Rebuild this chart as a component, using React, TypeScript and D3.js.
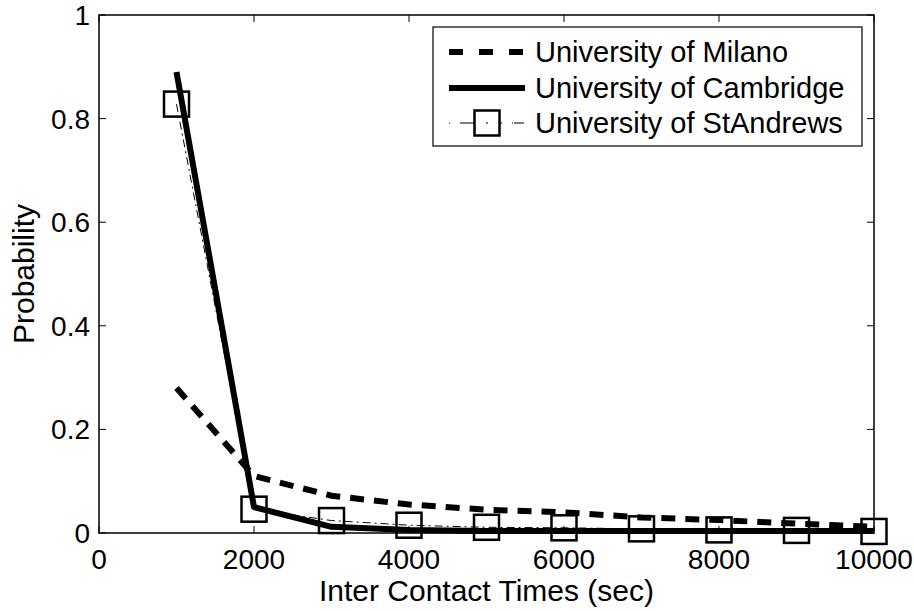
import React from "react";
import * as d3 from "d3";

const xValues = [1000, 2000, 3000, 4000, 5000, 6000, 7000, 8000, 9000, 10000];
const milano = [0.28, 0.11, 0.072, 0.055, 0.045, 0.04, 0.03, 0.025, 0.018, 0.012];
const cambridge = [0.89, 0.05, 0.012, 0.006, 0.004, 0.004, 0.004, 0.004, 0.004, 0.004];
const stAndrews = [0.828, 0.046, 0.024, 0.015, 0.011, 0.01, 0.008, 0.006, 0.005, 0.003];
const xTicks = [0, 2000, 4000, 6000, 8000, 10000];
const yTicks = [0, 0.2, 0.4, 0.6, 0.8, 1];
const seriesNames = ["University of Milano", "University of Cambridge", "University of StAndrews"];

const W = 914, H = 611;
const L = 99, R = 874, T = 15, B = 533;
const FONT = "Liberation Sans, Arial, sans-serif";

export default function App() {
  const x = d3.scaleLinear().domain([0, 10000]).range([L, R]);
  const y = d3.scaleLinear().domain([0, 1]).range([B, T]);
  const line = d3.line<[number, number]>().x(d => x(d[0])).y(d => y(d[1]));
  const pts = (arr: number[]) => xValues.map((v, i) => [v, arr[i]] as [number, number]);
  const tickLen = 7;
  const sq = 25;

  const legX0 = 449, legX1 = 525, legTextX = 535;
  const legRows = [52, 88, 123];

  return (
    <svg width={W} height={H} style={{ position: "absolute", left: 0, top: 0, background: "#fff" }} fontFamily={FONT}>
      <rect x={0} y={0} width={W} height={H} fill="#fff" />
      {/* data lines */}
      <path d={line(pts(stAndrews)) || ""} fill="none" stroke="#000" strokeWidth={1} strokeDasharray="8,4,2,4" />
      <path d={line(pts(milano)) || ""} fill="none" stroke="#000" strokeWidth={6} strokeDasharray="14,10" />
      <path d={line(pts(cambridge)) || ""} fill="none" stroke="#000" strokeWidth={6} strokeLinejoin="round" />
      {pts(stAndrews).map((d, i) => (
        <rect key={i} x={x(d[0]) - sq / 2} y={y(d[1]) - sq / 2} width={sq} height={sq} fill="none" stroke="#000" strokeWidth={2.5} />
      ))}
      {/* axes box */}
      <rect x={L} y={T} width={R - L} height={B - T} fill="none" stroke="#000" strokeWidth={1.5} />
      {xTicks.map(t => (
        <g key={"x" + t}>
          <line x1={x(t)} x2={x(t)} y1={B} y2={B - tickLen} stroke="#000" strokeWidth={1} />
          <line x1={x(t)} x2={x(t)} y1={T} y2={T + tickLen} stroke="#000" strokeWidth={1} />
          <text x={x(t)} y={569} textAnchor="middle" fontSize={28} fill="#000">{t}</text>
        </g>
      ))}
      {yTicks.map(t => (
        <g key={"y" + t}>
          <line x1={L} x2={L + tickLen} y1={y(t)} y2={y(t)} stroke="#000" strokeWidth={1} />
          <line x1={R} x2={R - tickLen} y1={y(t)} y2={y(t)} stroke="#000" strokeWidth={1} />
          <text x={L - 9} y={y(t) + 10} textAnchor="end" fontSize={28} fill="#000">{String(t)}</text>
        </g>
      ))}
      <text x={(L + R) / 2} y={601} textAnchor="middle" fontSize={30} fill="#000">Inter Contact Times (sec)</text>
      <text transform={`translate(34, ${(T + B) / 2}) rotate(-90)`} textAnchor="middle" fontSize={30} fill="#000">Probability</text>
      {/* legend */}
      <rect x={433} y={27} width={862 - 433} height={146 - 27} fill="#fff" stroke="#000" strokeWidth={1.2} />
      <line x1={legX0} x2={legX1} y1={legRows[0]} y2={legRows[0]} stroke="#000" strokeWidth={6} strokeDasharray="14,16" />
      <line x1={legX0} x2={legX1} y1={legRows[1]} y2={legRows[1]} stroke="#000" strokeWidth={6} />
      <line x1={legX0} x2={legX1} y1={legRows[2]} y2={legRows[2]} stroke="#000" strokeWidth={1} strokeDasharray="1,10,16,4,2,4,16,10,1" />
      <rect x={(legX0 + legX1) / 2 - sq / 2} y={legRows[2] - sq / 2} width={sq} height={sq} fill="#fff" stroke="#000" strokeWidth={2.5} />
      <line x1={(legX0 + legX1) / 2} x2={(legX0 + legX1) / 2} y1={legRows[2] - 1} y2={legRows[2] + 1} stroke="#000" strokeWidth={1} />
      {seriesNames.map((n, i) => (
        <text key={n} x={legTextX} y={legRows[i] + 10} fontSize={29} fill="#000">{n}</text>
      ))}
    </svg>
  );
}
